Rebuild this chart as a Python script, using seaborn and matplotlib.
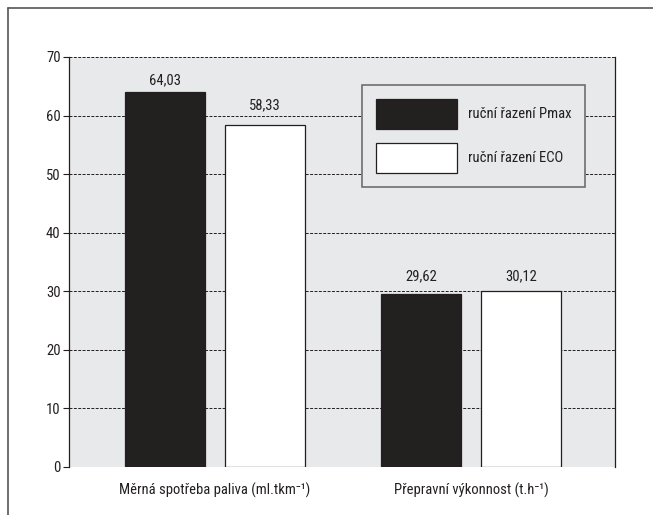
import matplotlib
matplotlib.use("Agg")
import matplotlib.pyplot as plt
import seaborn as sns
import pandas as pd
from matplotlib.lines import Line2D

categories = ["Měrná spotřeba paliva (ml.tkm⁻¹)", "Přepravní výkonnost (t.h⁻¹)"]
series_names = ["ruční řazení Pmax", "ruční řazení ECO"]
pmax_values = [64.03, 29.62]
eco_values = [58.33, 30.12]
yticks = [0, 10, 20, 30, 40, 50, 60, 70]

# style: vertical offsets (pixels) of value labels above bars, per series
label_offsets = [[8, 13], [16, 10]]

df = pd.DataFrame({
    "cat": categories * 2,
    "series": [series_names[0]] * 2 + [series_names[1]] * 2,
    "value": pmax_values + eco_values,
})

sns.set_theme(style="white")
plt.rcParams["font.family"] = ["Roboto Condensed", "Archivo Narrow", "DejaVu Sans"]
FS = 10.5

fig = plt.figure(figsize=(6.53, 5.15), dpi=100)
ax = fig.add_axes([69/653, 1-467/515, (615-69)/653, (467-57)/515])
ax.set_facecolor("#e8e9eb")

sns.barplot(data=df, x="cat", y="value", hue="series", hue_order=series_names,
            palette=["#231f20", "#ffffff"], width=0.78, gap=0.2,
            edgecolor="#231f20", linewidth=0.9, ax=ax, zorder=3)

ax.set_xlim(-0.57, 1.5625)
ax.set_ylim(0, 70)
ax.set_yticks(yticks)
ax.set_yticklabels([str(t) for t in yticks], fontsize=FS, color="#231f20")
ax.tick_params(axis="y", left=True, length=4, width=0.8, color="#231f20", pad=2)
ax.tick_params(axis="x", bottom=False, labelsize=FS, labelcolor="#231f20", pad=5)
ax.set_xlabel("")
ax.set_ylabel("")
ax.yaxis.grid(True, linestyle=(0, (3, 1.5)), color="#231f20", linewidth=0.7, zorder=1)
ax.set_axisbelow(True)
for s in ["top", "bottom"]:
    ax.spines[s].set_visible(False)
for s in ["left", "right"]:
    ax.spines[s].set_color("#231f20")
    ax.spines[s].set_linewidth(0.9)

for cont, vals, offs in zip(ax.containers, [pmax_values, eco_values], label_offsets):
    for bar, v, off in zip(cont, vals, offs):
        ax.annotate(f"{v:.2f}".replace(".", ","),
                    xy=(bar.get_x() + bar.get_width() / 2, bar.get_height()),
                    xytext=(0, off), textcoords="offset pixels",
                    ha="center", va="baseline", fontsize=FS, color="#231f20")

handles, labels = ax.get_legend_handles_labels()
ax.get_legend().remove()
leg = ax.legend(handles, labels, loc="upper left", bbox_to_anchor=(0.5366, 0.9317),
                borderaxespad=0, fontsize=FS, frameon=True, fancybox=False,
                handlelength=5.55, handleheight=2.79, labelspacing=0.95,
                borderpad=0.95, handletextpad=0.75, facecolor="#e8e9eb",
                edgecolor="#6d6e70", framealpha=1)
leg.get_frame().set_linewidth(1.2)
for t in leg.get_texts():
    t.set_color("#231f20")

fig.add_artist(Line2D([8/653, 8/653], [0, 1-8/515], transform=fig.transFigure,
                      color="#555555", linewidth=1.2))
fig.add_artist(Line2D([8/653, 1], [1-8/515, 1-8/515], transform=fig.transFigure,
                      color="#555555", linewidth=1.2))

fig.savefig("out.png", dpi=100, facecolor="white")
